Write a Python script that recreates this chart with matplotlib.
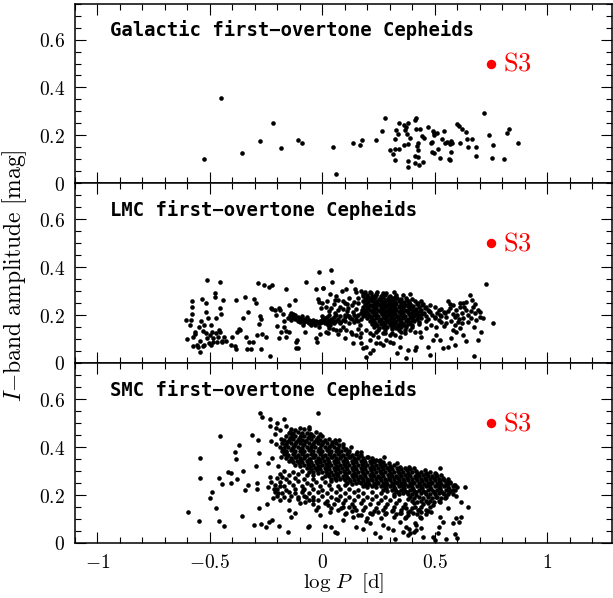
import matplotlib
matplotlib.use("Agg")
import matplotlib.pyplot as plt
from matplotlib.ticker import MultipleLocator, FuncFormatter

plt.rcParams['mathtext.fontset'] = 'cm'

# ---------------- data (log P [d], I-band amplitude [mag]) ----------------
galactic_pts = [
    (-0.528, 0.103), (-0.449, 0.355), (-0.358, 0.126), (-0.276, 0.175), (-0.221, 0.251), (-0.183, 0.147),
    (-0.110, 0.179), (-0.089, 0.167), (0.047, 0.150), (0.059, 0.040), (0.138, 0.169), (0.167, 0.161),
    (0.178, 0.179), (0.240, 0.179), (0.265, 0.219), (0.280, 0.271), (0.299, 0.139), (0.313, 0.122),
    (0.322, 0.186), (0.324, 0.144), (0.324, 0.096), (0.329, 0.222), (0.336, 0.207), (0.341, 0.250),
    (0.341, 0.143), (0.362, 0.242), (0.362, 0.160), (0.369, 0.222), (0.374, 0.233), (0.383, 0.251),
    (0.378, 0.204), (0.383, 0.164), (0.383, 0.093), (0.383, 0.068), (0.391, 0.189), (0.412, 0.264),
    (0.418, 0.272), (0.412, 0.114), (0.412, 0.086), (0.419, 0.226), (0.421, 0.157), (0.425, 0.167),
    (0.427, 0.139), (0.427, 0.111), (0.428, 0.075), (0.433, 0.225), (0.442, 0.196), (0.448, 0.090),
    (0.451, 0.187), (0.471, 0.235), (0.482, 0.167), (0.486, 0.173), (0.488, 0.130), (0.492, 0.219),
    (0.495, 0.125), (0.497, 0.208), (0.497, 0.200), (0.512, 0.211), (0.516, 0.144), (0.522, 0.105),
    (0.531, 0.183), (0.540, 0.218), (0.548, 0.167), (0.554, 0.172), (0.562, 0.100), (0.569, 0.097),
    (0.570, 0.162), (0.574, 0.176), (0.573, 0.132), (0.577, 0.167), (0.599, 0.246), (0.606, 0.239),
    (0.612, 0.169), (0.623, 0.225), (0.638, 0.215), (0.645, 0.183), (0.648, 0.150), (0.666, 0.183),
    (0.683, 0.150), (0.685, 0.115), (0.718, 0.292), (0.740, 0.200), (0.753, 0.104), (0.758, 0.161),
    (0.807, 0.101), (0.823, 0.212), (0.832, 0.228), (0.872, 0.169),
]

lmc_sparse = [
    (-0.605, 0.179), (-0.602, 0.099), (-0.590, 0.158), (-0.579, 0.260), (-0.579, 0.232), (-0.579, 0.203),
    (-0.582, 0.179), (-0.568, 0.128), (-0.573, 0.110), (-0.564, 0.119), (-0.573, 0.072), (-0.558, 0.075),
    (-0.553, 0.068), (-0.549, 0.151), (-0.546, 0.092), (-0.543, 0.047), (-0.539, 0.175), (-0.534, 0.269),
    (-0.531, 0.133), (-0.531, 0.072), (-0.528, 0.158), (-0.524, 0.075), (-0.519, 0.249), (-0.519, 0.211),
    (-0.516, 0.124), (-0.513, 0.346), (-0.513, 0.106), (-0.509, 0.186), (-0.504, 0.082), (-0.501, 0.117),
    (-0.494, 0.158), (-0.494, 0.075), (-0.490, 0.131), (-0.487, 0.106), (-0.484, 0.086), (-0.479, 0.276),
    (-0.476, 0.294), (-0.475, 0.124), (-0.472, 0.186), (-0.469, 0.089), (-0.464, 0.110), (-0.460, 0.138),
    (-0.457, 0.336), (-0.454, 0.228), (-0.454, 0.131), (-0.450, 0.203), (-0.448, 0.092), (-0.445, 0.086),
    (-0.442, 0.263), (-0.439, 0.110), (-0.430, 0.092), (-0.408, 0.075), (-0.401, 0.110), (-0.390, 0.072),
    (-0.386, 0.058), (-0.383, 0.263), (-0.380, 0.131), (-0.371, 0.142), (-0.368, 0.138), (-0.353, 0.186),
    (-0.346, 0.274), (-0.341, 0.110), (-0.335, 0.058), (-0.331, 0.211), (-0.328, 0.089), (-0.316, 0.058),
    (-0.309, 0.089), (-0.306, 0.267), (-0.297, 0.249), (-0.291, 0.117), (-0.286, 0.332), (-0.283, 0.161),
    (-0.279, 0.197), (-0.274, 0.183), (-0.272, 0.058), (-0.267, 0.119), (-0.261, 0.325), (-0.249, 0.110),
    (-0.237, 0.318), (-0.234, 0.031), (-0.223, 0.325), (-0.227, 0.231), (-0.223, 0.225), (-0.212, 0.221),
    (-0.205, 0.200), (-0.202, 0.156), (-0.193, 0.228), (-0.193, 0.106), (-0.187, 0.221), (-0.182, 0.131),
    (-0.175, 0.203), (-0.172, 0.175), (-0.171, 0.151), (-0.163, 0.308), (-0.163, 0.133), (-0.160, 0.110),
    (-0.153, 0.186), (-0.148, 0.244), (-0.148, 0.128), (-0.145, 0.200), (-0.138, 0.207), (-0.131, 0.193),
    (-0.123, 0.263), (-0.119, 0.064), (-0.116, 0.086), (-0.113, 0.096), (-0.108, 0.061), (-0.101, 0.172),
    (-0.093, 0.183), (-0.086, 0.158), (-0.079, 0.128), (-0.074, 0.339), (-0.071, 0.179), (-0.064, 0.172),
    (-0.056, 0.165), (-0.049, 0.158), (-0.042, 0.175), (-0.034, 0.158), (-0.030, 0.103), (-0.024, 0.089),
    (-0.027, 0.308), (-0.019, 0.269), (-0.015, 0.256), (-0.015, 0.151), (-0.012, 0.119), (-0.004, 0.228),
    (0.003, 0.314), (-0.016, 0.381), (0.010, 0.186), (0.018, 0.172), (0.025, 0.158), (0.018, 0.131),
    (0.025, 0.124),
    (0.040, 0.388), (0.043, 0.339), (0.003, 0.315), (0.126, 0.343), (0.107, 0.307), (0.088, 0.301),
    (0.062, 0.279), (0.070, 0.265), (0.033, 0.290), (0.055, 0.265), (0.144, 0.307), (0.151, 0.297),
    (0.174, 0.301), (0.181, 0.290), (0.211, 0.297), (0.240, 0.290), (0.270, 0.293), (0.392, 0.290),
    (0.559, 0.260), (0.656, 0.283), (0.668, 0.263), (0.641, 0.256), (0.611, 0.251), (0.730, 0.329),
    (0.760, 0.168), (0.715, 0.186), (0.700, 0.214), (0.685, 0.179), (0.674, 0.151), (0.708, 0.131),
    (0.693, 0.096), (0.674, 0.029), (0.641, 0.093), (0.626, 0.117), (0.611, 0.144), (0.596, 0.131),
    (0.582, 0.138), (0.574, 0.103), (0.589, 0.075), (0.559, 0.068), (0.537, 0.061), (0.522, 0.096),
    (0.507, 0.117), (0.493, 0.096), (0.478, 0.033), (0.470, 0.068), (0.441, 0.110), (0.418, 0.068),
    (0.411, 0.054), (0.381, 0.054), (0.371, 0.019), (0.344, 0.068), (0.332, 0.040), (0.315, 0.082),
    (0.300, 0.089), (0.285, 0.096), (0.270, 0.075), (0.255, 0.085), (0.240, 0.082), (0.226, 0.054),
    (0.211, 0.043), (0.193, 0.024), (0.196, 0.068), (0.181, 0.061), (0.174, 0.085), (0.136, 0.085),
    (0.166, 0.110), (0.151, 0.117), (0.129, 0.131), (0.107, 0.138), (0.092, 0.151), (0.077, 0.138),
    (0.062, 0.138), (0.047, 0.140), (0.033, 0.158), (0.018, 0.172), (0.003, 0.186), (-0.012, 0.172),
    (0.077, 0.172), (0.055, 0.207), (0.040, 0.228), (0.018, 0.235), (0.000, 0.249), (0.077, 0.235),
    (0.099, 0.249), (0.114, 0.228), (0.099, 0.200), (0.122, 0.186), (0.136, 0.214), (0.151, 0.179),
    (0.166, 0.158), (0.178, 0.221), (0.159, 0.249), (0.196, 0.138), (0.211, 0.124), (0.226, 0.117),
    (0.240, 0.131), (0.211, 0.096), (0.248, 0.107), (0.277, 0.124), (0.300, 0.117), (0.322, 0.117),
    (0.344, 0.110), (0.366, 0.124), (0.389, 0.138), (0.411, 0.131), (0.433, 0.131), (0.463, 0.144),
    (0.485, 0.158), (0.507, 0.151), (0.530, 0.172), (0.552, 0.165), (0.574, 0.176), (0.589, 0.193),
    (0.604, 0.172), (0.626, 0.186), (0.648, 0.200), (0.663, 0.186), (0.678, 0.207), (0.693, 0.221),
    (0.596, 0.221), (0.611, 0.235), (0.626, 0.249), (0.582, 0.242), (0.567, 0.228), (0.545, 0.207),
    (0.522, 0.200), (0.500, 0.193),
    (0.560, 0.215), (0.580, 0.205), (0.600, 0.200), (0.620, 0.210), (0.640, 0.220), (0.660, 0.215),
    (0.670, 0.235), (0.630, 0.235), (0.650, 0.170), (0.610, 0.185), (0.550, 0.190), (0.530, 0.225),
    (0.570, 0.245), (0.680, 0.245), (0.700, 0.190), (0.520, 0.180), (0.540, 0.155), (0.590, 0.160),
    (0.620, 0.165),
    (0.020, 0.260), (0.050, 0.245), (0.090, 0.260), (0.120, 0.270), (0.140, 0.255), (0.160, 0.270),
    (0.110, 0.245), (0.030, 0.145), (0.070, 0.120), (0.100, 0.105), (0.130, 0.120), (0.160, 0.140),
    (0.170, 0.125),
]

lmc_band = [
    (-0.140, 0.195), (-0.130, 0.190), (-0.120, 0.185), (-0.110, 0.190), (-0.100, 0.185), (-0.090, 0.180),
    (-0.080, 0.185), (-0.070, 0.175), (-0.060, 0.180), (-0.050, 0.175), (-0.040, 0.170), (-0.030, 0.175),
    (-0.020, 0.170), (-0.010, 0.175), (0.000, 0.170), (0.010, 0.175), (0.020, 0.180), (0.030, 0.175),
    (-0.140, 0.180), (-0.120, 0.200), (-0.100, 0.175), (-0.080, 0.170), (-0.060, 0.165), (-0.040, 0.180),
    (-0.020, 0.165), (0.000, 0.180), (0.020, 0.165), (-0.130, 0.205), (-0.110, 0.175), (-0.090, 0.195),
    (-0.070, 0.190), (-0.050, 0.165), (-0.030, 0.165), (-0.010, 0.165), (0.010, 0.165), (0.030, 0.165),
    (0.040, 0.170), (0.040, 0.180), (0.050, 0.175), (0.050, 0.165),
    (0.000, 0.195), (0.010, 0.180), (0.020, 0.190), (0.030, 0.200), (0.040, 0.185), (0.050, 0.190),
    (0.060, 0.200), (0.070, 0.185), (0.080, 0.195), (0.090, 0.180), (0.100, 0.190), (0.110, 0.200),
    (0.120, 0.195), (0.130, 0.185), (0.140, 0.200), (0.150, 0.190), (0.160, 0.200), (0.170, 0.185),
    (0.180, 0.195), (0.060, 0.175), (0.080, 0.165), (0.100, 0.175), (0.120, 0.165), (0.140, 0.170),
    (0.160, 0.175), (0.030, 0.215), (0.070, 0.220), (0.110, 0.215), (0.150, 0.225), (0.170, 0.210),
    (0.130, 0.240), (0.090, 0.225),
]

lmc_core = [
    (0.190, 0.296), (0.215, 0.293), (0.245, 0.297), (0.285, 0.294), (0.320, 0.298),
    (0.180, 0.281), (0.200, 0.284), (0.222, 0.280), (0.241, 0.283), (0.262, 0.281), (0.280, 0.285),
    (0.301, 0.280), (0.330, 0.283), (0.358, 0.282),
    (0.190, 0.271), (0.211, 0.268), (0.230, 0.272), (0.251, 0.269), (0.270, 0.271), (0.291, 0.268),
    (0.310, 0.272), (0.331, 0.270), (0.350, 0.268), (0.372, 0.271), (0.401, 0.269),
    (0.181, 0.259), (0.201, 0.256), (0.220, 0.260), (0.242, 0.257), (0.261, 0.259), (0.280, 0.256),
    (0.301, 0.260), (0.321, 0.257), (0.340, 0.259), (0.362, 0.256), (0.380, 0.258), (0.411, 0.257),
    (0.440, 0.259),
    (0.190, 0.247), (0.211, 0.244), (0.230, 0.248), (0.250, 0.245), (0.271, 0.247), (0.290, 0.244),
    (0.311, 0.248), (0.330, 0.245), (0.351, 0.247), (0.370, 0.244), (0.391, 0.247), (0.420, 0.245),
    (0.450, 0.247), (0.480, 0.244),
    (0.180, 0.235), (0.200, 0.232), (0.221, 0.236), (0.240, 0.233), (0.260, 0.235), (0.281, 0.232),
    (0.300, 0.236), (0.320, 0.233), (0.341, 0.235), (0.360, 0.232), (0.380, 0.236), (0.401, 0.233),
    (0.430, 0.235), (0.460, 0.232), (0.500, 0.235),
    (0.190, 0.223), (0.210, 0.220), (0.231, 0.224), (0.250, 0.221), (0.270, 0.223), (0.291, 0.220),
    (0.310, 0.224), (0.330, 0.221), (0.351, 0.223), (0.370, 0.220), (0.390, 0.224), (0.411, 0.221),
    (0.440, 0.223), (0.470, 0.220), (0.520, 0.222),
    (0.180, 0.211), (0.201, 0.208), (0.220, 0.212), (0.240, 0.209), (0.261, 0.211), (0.280, 0.208),
    (0.300, 0.212), (0.321, 0.209), (0.340, 0.211), (0.360, 0.208), (0.381, 0.212), (0.400, 0.209),
    (0.420, 0.211), (0.451, 0.208), (0.480, 0.212), (0.510, 0.209), (0.540, 0.211),
    (0.190, 0.199), (0.211, 0.196), (0.230, 0.200), (0.250, 0.197), (0.271, 0.199), (0.290, 0.196),
    (0.310, 0.200), (0.331, 0.197), (0.350, 0.199), (0.370, 0.196), (0.391, 0.200), (0.410, 0.197),
    (0.430, 0.199), (0.461, 0.196), (0.490, 0.200), (0.530, 0.197),
    (0.200, 0.187), (0.220, 0.184), (0.241, 0.188), (0.260, 0.185), (0.280, 0.187), (0.301, 0.184),
    (0.320, 0.188), (0.340, 0.185), (0.361, 0.187), (0.380, 0.184), (0.400, 0.188), (0.421, 0.185),
    (0.440, 0.187), (0.470, 0.184), (0.500, 0.188),
    (0.210, 0.175), (0.230, 0.172), (0.251, 0.176), (0.270, 0.173), (0.290, 0.175), (0.311, 0.172),
    (0.330, 0.176), (0.350, 0.173), (0.371, 0.175), (0.390, 0.172), (0.410, 0.176), (0.431, 0.173),
    (0.460, 0.175),
    (0.220, 0.163), (0.240, 0.160), (0.261, 0.164), (0.280, 0.161), (0.300, 0.163), (0.321, 0.160),
    (0.340, 0.164), (0.360, 0.161), (0.381, 0.163), (0.400, 0.160), (0.430, 0.163),
    (0.230, 0.151), (0.251, 0.148), (0.270, 0.152), (0.290, 0.149), (0.311, 0.151), (0.330, 0.148),
    (0.350, 0.152), (0.371, 0.149), (0.400, 0.151),
    (0.250, 0.139), (0.280, 0.136), (0.310, 0.140), (0.340, 0.137), (0.370, 0.139),
    (0.270, 0.127), (0.310, 0.124), (0.350, 0.128),
]

lmc_core_fill = [
    (0.205, 0.277), (0.235, 0.275), (0.265, 0.278), (0.295, 0.275), (0.325, 0.277),
    (0.195, 0.265), (0.225, 0.263), (0.255, 0.266), (0.285, 0.262), (0.315, 0.265), (0.345, 0.263),
    (0.375, 0.265),
    (0.205, 0.253), (0.235, 0.251), (0.265, 0.254), (0.295, 0.251), (0.325, 0.253), (0.355, 0.250),
    (0.385, 0.253), (0.425, 0.251),
    (0.195, 0.241), (0.225, 0.239), (0.255, 0.242), (0.285, 0.239), (0.315, 0.241), (0.345, 0.238),
    (0.375, 0.241), (0.405, 0.239), (0.445, 0.241),
    (0.205, 0.229), (0.235, 0.227), (0.265, 0.230), (0.295, 0.227), (0.325, 0.229), (0.355, 0.226),
    (0.385, 0.229), (0.415, 0.227), (0.455, 0.229),
    (0.195, 0.217), (0.225, 0.215), (0.255, 0.218), (0.285, 0.215), (0.315, 0.217), (0.345, 0.214),
    (0.375, 0.217), (0.405, 0.215), (0.435, 0.217), (0.475, 0.215),
    (0.205, 0.205), (0.235, 0.203), (0.265, 0.206), (0.295, 0.203), (0.325, 0.205), (0.355, 0.202),
    (0.385, 0.205), (0.415, 0.203), (0.445, 0.205),
    (0.215, 0.193), (0.245, 0.191), (0.275, 0.194), (0.305, 0.191), (0.335, 0.193), (0.365, 0.190),
    (0.395, 0.193), (0.425, 0.191),
    (0.225, 0.181), (0.255, 0.179), (0.285, 0.182), (0.315, 0.179), (0.345, 0.181), (0.375, 0.178),
    (0.405, 0.181),
    (0.235, 0.169), (0.265, 0.167), (0.295, 0.170), (0.325, 0.167), (0.355, 0.169), (0.385, 0.166),
    (0.245, 0.157), (0.275, 0.155), (0.305, 0.158), (0.335, 0.155), (0.365, 0.157),
]

smc_sparse = [
    (-0.598, 0.131), (-0.549, 0.093), (-0.546, 0.272), (-0.542, 0.353), (-0.501, 0.189), (-0.490, 0.214),
    (-0.472, 0.147), (-0.460, 0.272), (-0.460, 0.093), (-0.453, 0.446), (-0.447, 0.246), (-0.439, 0.072),
    (-0.420, 0.297), (-0.405, 0.293), (-0.405, 0.251), (-0.387, 0.381), (-0.386, 0.349), (-0.380, 0.267),
    (-0.371, 0.411), (-0.356, 0.114), (-0.353, 0.301), (-0.346, 0.221), (-0.331, 0.242), (-0.312, 0.450),
    (-0.306, 0.075), (-0.294, 0.321), (-0.291, 0.251), (-0.291, 0.225), (-0.286, 0.429), (-0.283, 0.374),
    (-0.282, 0.147), (-0.279, 0.543), (-0.274, 0.078), (-0.267, 0.526), (-0.249, 0.068), (-0.246, 0.163),
    (-0.243, 0.332), (-0.242, 0.235), (-0.237, 0.089), (-0.234, 0.274), (-0.231, 0.519), (-0.231, 0.488),
    (-0.227, 0.426), (-0.227, 0.256), (-0.224, 0.096), (-0.223, 0.353), (-0.219, 0.186), (-0.217, 0.224),
    (-0.212, 0.453), (-0.208, 0.478), (-0.205, 0.415), (-0.202, 0.501), (-0.197, 0.207), (-0.197, 0.321),
    (-0.193, 0.071), (-0.190, 0.238), (-0.187, 0.471), (-0.183, 0.432), (-0.183, 0.360), (-0.178, 0.274),
    (-0.175, 0.394), (-0.172, 0.519), (-0.163, 0.488), (-0.163, 0.381), (-0.153, 0.047), (-0.148, 0.138),
    (-0.145, 0.464), (-0.138, 0.110), (-0.123, 0.124), (-0.064, 0.068), (-0.019, 0.543),
    (-0.059, 0.485), (-0.012, 0.457), (0.055, 0.429), (0.074, 0.429), (0.092, 0.415), (0.126, 0.399),
    (0.174, 0.381), (0.240, 0.346), (0.273, 0.360), (0.332, 0.335), (-0.059, 0.071), (0.010, 0.071),
    (0.040, 0.068), (0.055, 0.047), (0.065, 0.040), (0.092, 0.096), (0.135, 0.110), (0.151, 0.068),
    (0.180, 0.057), (0.196, 0.093), (0.211, 0.082), (0.233, 0.043), (0.255, 0.026), (0.270, 0.075),
    (0.292, 0.061), (0.314, 0.054), (0.322, 0.015), (0.344, 0.089), (0.374, 0.065), (0.389, 0.040),
    (0.411, 0.082), (0.418, 0.054), (-0.042, 0.179), (-0.027, 0.138), (-0.012, 0.117), (0.025, 0.158),
    (0.033, 0.131), (0.070, 0.179), (0.085, 0.144), (0.107, 0.124), (0.121, 0.151), (0.151, 0.138),
    (0.174, 0.117), (0.211, 0.124), (0.248, 0.131), (0.285, 0.124), (0.314, 0.138), (0.344, 0.124),
    (0.374, 0.144), (0.403, 0.124), (0.426, 0.138), (-0.086, 0.221), (-0.071, 0.193), (-0.079, 0.172),
    (0.525, 0.311), (0.636, 0.235), (0.618, 0.172), (0.648, 0.149), (0.596, 0.196), (0.581, 0.221),
    (0.589, 0.242), (0.567, 0.256), (0.559, 0.144), (0.596, 0.103), (0.608, 0.089), (0.618, 0.107),
    (0.581, 0.082), (0.537, 0.089), (0.522, 0.107), (0.519, 0.068), (0.514, 0.043), (0.492, 0.026),
    (0.500, 0.013), (0.551, 0.015), (0.589, 0.038), (0.599, 0.019), (0.448, 0.026), (0.441, 0.061),
    (0.418, 0.075), (0.406, 0.047), (0.381, 0.033), (0.385, 0.057), (0.359, 0.047), (0.433, 0.110),
    (0.441, 0.131), (0.463, 0.138), (0.485, 0.131), (0.492, 0.158), (0.470, 0.165), (0.522, 0.172),
    (0.544, 0.186), (0.507, 0.193), (0.411, 0.151), (0.381, 0.131), (0.374, 0.110), (0.351, 0.124),
]

smc_band = [
    (-0.140, 0.477), (-0.121, 0.473), (-0.100, 0.478), (-0.082, 0.474), (-0.060, 0.476),
    (-0.150, 0.461), (-0.131, 0.458), (-0.110, 0.462), (-0.091, 0.459), (-0.070, 0.461), (-0.049, 0.457),
    (-0.030, 0.462),
    (-0.160, 0.446), (-0.141, 0.443), (-0.120, 0.447), (-0.100, 0.444), (-0.081, 0.446), (-0.060, 0.442),
    (-0.040, 0.447), (-0.021, 0.444), (0.000, 0.446),
    (-0.170, 0.431), (-0.150, 0.428), (-0.131, 0.432), (-0.110, 0.429), (-0.090, 0.431), (-0.071, 0.427),
    (-0.050, 0.432), (-0.030, 0.429), (-0.011, 0.431), (0.010, 0.428), (0.030, 0.432),
    (-0.180, 0.416), (-0.160, 0.413), (-0.141, 0.417), (-0.120, 0.414), (-0.100, 0.416), (-0.081, 0.412),
    (-0.060, 0.417), (-0.040, 0.414), (-0.021, 0.416), (0.000, 0.413), (0.020, 0.417), (0.041, 0.414),
    (0.060, 0.416),
    (-0.190, 0.401), (-0.170, 0.398), (-0.151, 0.402), (-0.130, 0.399), (-0.110, 0.401), (-0.091, 0.397),
    (-0.070, 0.402), (-0.050, 0.399), (-0.031, 0.401), (-0.010, 0.398), (0.010, 0.402), (0.031, 0.399),
    (0.050, 0.401), (0.070, 0.398), (0.090, 0.402),
    (-0.180, 0.386), (-0.161, 0.383), (-0.140, 0.387), (-0.120, 0.384), (-0.101, 0.386), (-0.080, 0.382),
    (-0.060, 0.387), (-0.041, 0.384), (-0.020, 0.386), (0.000, 0.383), (0.021, 0.387), (0.040, 0.384),
    (0.060, 0.386), (0.081, 0.383), (0.100, 0.387), (0.120, 0.384),
    (-0.170, 0.371), (-0.151, 0.368), (-0.130, 0.372), (-0.110, 0.369), (-0.091, 0.371), (-0.070, 0.367),
    (-0.050, 0.372), (-0.031, 0.369), (-0.010, 0.371), (0.010, 0.368), (0.031, 0.372), (0.050, 0.369),
    (0.070, 0.371), (0.091, 0.368), (0.110, 0.372), (0.130, 0.369), (0.151, 0.371), (0.170, 0.368),
    (-0.160, 0.356), (-0.140, 0.353), (-0.121, 0.357), (-0.100, 0.354), (-0.080, 0.356), (-0.061, 0.352),
    (-0.040, 0.357), (-0.020, 0.354), (-0.001, 0.356), (0.020, 0.353), (0.040, 0.357), (0.061, 0.354),
    (0.080, 0.356), (0.100, 0.353), (0.121, 0.357), (0.140, 0.354), (0.160, 0.356), (0.181, 0.353),
    (0.200, 0.357), (0.220, 0.354),
    (-0.150, 0.341), (-0.130, 0.338), (-0.111, 0.342), (-0.090, 0.339), (-0.070, 0.341), (-0.051, 0.337),
    (-0.030, 0.342), (-0.010, 0.339), (0.009, 0.341), (0.030, 0.338), (0.050, 0.342), (0.071, 0.339),
    (0.090, 0.341), (0.110, 0.338), (0.131, 0.342), (0.150, 0.339), (0.170, 0.341), (0.191, 0.338),
    (0.210, 0.342), (0.230, 0.339), (0.251, 0.341), (0.270, 0.338),
    (-0.120, 0.326), (-0.100, 0.323), (-0.081, 0.327), (-0.060, 0.324), (-0.040, 0.326), (-0.021, 0.322),
    (0.000, 0.327), (0.020, 0.324), (0.039, 0.326), (0.060, 0.323), (0.080, 0.327), (0.101, 0.324),
    (0.120, 0.326), (0.140, 0.323), (0.161, 0.327), (0.180, 0.324), (0.200, 0.326), (0.221, 0.323),
    (0.240, 0.327), (0.260, 0.324), (0.281, 0.326), (0.300, 0.323), (0.320, 0.327),
    (-0.070, 0.311), (-0.050, 0.308), (-0.031, 0.312), (-0.010, 0.309), (0.010, 0.311), (0.029, 0.307),
    (0.050, 0.312), (0.070, 0.309), (0.089, 0.311), (0.110, 0.308), (0.130, 0.312), (0.151, 0.309),
    (0.170, 0.311), (0.190, 0.308), (0.211, 0.312), (0.230, 0.309), (0.250, 0.311), (0.271, 0.308),
    (0.290, 0.312), (0.310, 0.309), (0.331, 0.311), (0.350, 0.308), (0.370, 0.312), (0.391, 0.309),
    (0.410, 0.311),
    (-0.040, 0.296), (-0.020, 0.293), (-0.001, 0.297), (0.020, 0.294), (0.040, 0.296), (0.059, 0.292),
    (0.080, 0.297), (0.100, 0.294), (0.119, 0.296), (0.140, 0.293), (0.160, 0.297), (0.181, 0.294),
    (0.200, 0.296), (0.220, 0.293), (0.241, 0.297), (0.260, 0.294), (0.280, 0.296), (0.301, 0.293),
    (0.320, 0.297), (0.340, 0.294), (0.361, 0.296), (0.380, 0.293), (0.400, 0.297), (0.421, 0.294),
    (0.440, 0.296), (0.460, 0.293), (0.481, 0.297), (0.500, 0.294),
    (0.010, 0.281), (0.030, 0.278), (0.049, 0.282), (0.070, 0.279), (0.090, 0.281), (0.109, 0.277),
    (0.130, 0.282), (0.150, 0.279), (0.169, 0.281), (0.190, 0.278), (0.210, 0.282), (0.231, 0.279),
    (0.250, 0.281), (0.270, 0.278), (0.291, 0.282), (0.310, 0.279), (0.330, 0.281), (0.351, 0.278),
    (0.370, 0.282), (0.390, 0.279), (0.411, 0.281), (0.430, 0.278), (0.450, 0.282), (0.471, 0.279),
    (0.490, 0.281), (0.510, 0.278), (0.530, 0.282),
    (0.040, 0.266), (0.060, 0.263), (0.079, 0.267), (0.100, 0.264), (0.120, 0.266), (0.139, 0.262),
    (0.160, 0.267), (0.180, 0.264), (0.199, 0.266), (0.220, 0.263), (0.240, 0.267), (0.261, 0.264),
    (0.280, 0.266), (0.300, 0.263), (0.321, 0.267), (0.340, 0.264), (0.360, 0.266), (0.381, 0.263),
    (0.400, 0.267), (0.420, 0.264), (0.441, 0.266), (0.460, 0.263), (0.480, 0.267), (0.501, 0.264),
    (0.520, 0.266), (0.540, 0.263), (0.560, 0.267),
    (0.110, 0.251), (0.130, 0.248), (0.149, 0.252), (0.170, 0.249), (0.190, 0.251), (0.209, 0.247),
    (0.230, 0.252), (0.250, 0.249), (0.269, 0.251), (0.290, 0.248), (0.310, 0.252), (0.331, 0.249),
    (0.350, 0.251), (0.370, 0.248), (0.391, 0.252), (0.410, 0.249), (0.430, 0.251), (0.451, 0.248),
    (0.470, 0.252), (0.490, 0.249), (0.511, 0.251), (0.530, 0.248), (0.550, 0.252), (0.570, 0.249),
    (0.180, 0.236), (0.200, 0.233), (0.219, 0.237), (0.240, 0.234), (0.260, 0.236), (0.279, 0.232),
    (0.300, 0.237), (0.320, 0.234), (0.339, 0.236), (0.360, 0.233), (0.380, 0.237), (0.401, 0.234),
    (0.420, 0.236), (0.440, 0.233), (0.461, 0.237), (0.480, 0.234), (0.500, 0.236), (0.521, 0.233),
    (0.540, 0.237), (0.560, 0.234), (0.581, 0.236), (0.600, 0.233),
    (0.270, 0.221), (0.290, 0.218), (0.309, 0.222), (0.330, 0.219), (0.350, 0.221), (0.369, 0.217),
    (0.390, 0.222), (0.410, 0.219), (0.429, 0.221), (0.450, 0.218), (0.470, 0.222), (0.491, 0.219),
    (0.510, 0.221), (0.530, 0.218), (0.551, 0.222), (0.570, 0.219), (0.590, 0.221),
    (0.320, 0.206), (0.340, 0.203), (0.359, 0.207), (0.380, 0.204), (0.400, 0.206), (0.419, 0.202),
    (0.440, 0.207), (0.460, 0.204), (0.479, 0.206), (0.500, 0.203), (0.520, 0.207), (0.541, 0.204),
    (0.560, 0.206), (0.580, 0.203),
    (0.390, 0.191), (0.410, 0.188), (0.429, 0.192), (0.450, 0.189), (0.470, 0.191), (0.489, 0.187),
    (0.510, 0.192), (0.530, 0.189), (0.549, 0.191),
    (0.400, 0.176), (0.420, 0.173), (0.439, 0.177), (0.460, 0.174), (0.480, 0.176), (0.499, 0.172),
    (0.520, 0.177),
]

smc_band_fill = [
    (-0.135, 0.453), (-0.095, 0.451), (-0.055, 0.454),
    (-0.145, 0.438), (-0.105, 0.436), (-0.065, 0.439), (-0.025, 0.436),
    (-0.155, 0.423), (-0.115, 0.421), (-0.075, 0.424), (-0.035, 0.421), (0.005, 0.423), (0.045, 0.421),
    (-0.165, 0.408), (-0.125, 0.406), (-0.085, 0.409), (-0.045, 0.406), (-0.005, 0.408), (0.035, 0.405),
    (0.075, 0.408),
    (-0.175, 0.393), (-0.135, 0.391), (-0.095, 0.394), (-0.055, 0.391), (-0.015, 0.393), (0.025, 0.390),
    (0.065, 0.393), (0.105, 0.391),
    (-0.165, 0.378), (-0.125, 0.376), (-0.085, 0.379), (-0.045, 0.376), (-0.005, 0.378), (0.035, 0.375),
    (0.075, 0.378), (0.115, 0.376), (0.155, 0.378),
    (-0.155, 0.363), (-0.115, 0.361), (-0.075, 0.364), (-0.035, 0.361), (0.005, 0.363), (0.045, 0.360),
    (0.085, 0.363), (0.125, 0.361), (0.165, 0.363), (0.205, 0.360),
    (-0.135, 0.348), (-0.095, 0.346), (-0.055, 0.349), (-0.015, 0.346), (0.025, 0.348), (0.065, 0.345),
    (0.105, 0.348), (0.145, 0.346), (0.185, 0.348), (0.225, 0.345), (0.255, 0.348),
    (-0.105, 0.333), (-0.065, 0.331), (-0.025, 0.334), (0.015, 0.331), (0.055, 0.333), (0.095, 0.330),
    (0.135, 0.333), (0.175, 0.331), (0.215, 0.333), (0.255, 0.330), (0.295, 0.333),
    (-0.055, 0.318), (-0.015, 0.316), (0.025, 0.319), (0.065, 0.316), (0.105, 0.318), (0.145, 0.315),
    (0.185, 0.318), (0.225, 0.316), (0.265, 0.318), (0.305, 0.315), (0.345, 0.318), (0.385, 0.316),
    (-0.025, 0.303), (0.015, 0.301), (0.055, 0.304), (0.095, 0.301), (0.135, 0.303), (0.175, 0.300),
    (0.215, 0.303), (0.255, 0.301), (0.295, 0.303), (0.335, 0.300), (0.375, 0.303), (0.415, 0.301),
    (0.455, 0.303),
    (0.025, 0.288), (0.065, 0.286), (0.105, 0.289), (0.145, 0.286), (0.185, 0.288), (0.225, 0.285),
    (0.265, 0.288), (0.305, 0.286), (0.345, 0.288), (0.385, 0.285), (0.425, 0.288), (0.465, 0.286),
    (0.505, 0.288),
    (0.055, 0.273), (0.095, 0.271), (0.135, 0.274), (0.175, 0.271), (0.215, 0.273), (0.255, 0.270),
    (0.295, 0.273), (0.335, 0.271), (0.375, 0.273), (0.415, 0.270), (0.455, 0.273), (0.495, 0.271),
    (0.535, 0.273),
    (0.125, 0.258), (0.165, 0.256), (0.205, 0.259), (0.245, 0.256), (0.285, 0.258), (0.325, 0.255),
    (0.365, 0.258), (0.405, 0.256), (0.445, 0.258), (0.485, 0.255), (0.525, 0.258), (0.555, 0.256),
    (0.195, 0.243), (0.235, 0.241), (0.275, 0.244), (0.315, 0.241), (0.355, 0.243), (0.395, 0.240),
    (0.435, 0.243), (0.475, 0.241), (0.515, 0.243), (0.555, 0.240), (0.585, 0.243),
    (0.285, 0.228), (0.325, 0.226), (0.365, 0.229), (0.405, 0.226), (0.445, 0.228), (0.485, 0.225),
    (0.525, 0.228), (0.565, 0.226),
    (0.335, 0.213), (0.375, 0.211), (0.415, 0.214), (0.455, 0.211), (0.495, 0.213), (0.535, 0.210),
    (0.565, 0.213),
]

smc_lower = [
    (-0.170, 0.302), (-0.130, 0.298), (-0.090, 0.301), (-0.060, 0.297),
    (-0.190, 0.286), (-0.150, 0.283), (-0.110, 0.287), (-0.070, 0.282), (-0.040, 0.285),
    (-0.200, 0.271), (-0.160, 0.268), (-0.120, 0.272), (-0.080, 0.269), (-0.040, 0.266), (0.000, 0.271),
    (-0.190, 0.256), (-0.150, 0.253), (-0.110, 0.257), (-0.070, 0.252), (-0.030, 0.256), (0.010, 0.253),
    (0.040, 0.257),
    (-0.210, 0.241), (-0.170, 0.238), (-0.130, 0.242), (-0.090, 0.239), (-0.050, 0.241), (-0.010, 0.237),
    (0.030, 0.242), (0.070, 0.239), (0.100, 0.241),
    (-0.200, 0.226), (-0.160, 0.223), (-0.120, 0.227), (-0.080, 0.224), (-0.040, 0.226), (0.000, 0.222),
    (0.040, 0.227), (0.080, 0.224), (0.120, 0.226), (0.160, 0.223),
    (-0.210, 0.211), (-0.180, 0.208), (-0.150, 0.212), (-0.120, 0.209), (-0.090, 0.211), (-0.060, 0.207),
    (-0.020, 0.212), (0.020, 0.209), (0.060, 0.211), (0.100, 0.208), (0.140, 0.212), (0.180, 0.209),
    (0.220, 0.211), (0.260, 0.208),
    (-0.200, 0.196), (-0.170, 0.193), (-0.140, 0.197), (-0.110, 0.194), (-0.080, 0.196), (-0.040, 0.192),
    (0.000, 0.197), (0.040, 0.194), (0.080, 0.196), (0.120, 0.193), (0.160, 0.197), (0.200, 0.194),
    (0.240, 0.196), (0.280, 0.193), (0.320, 0.197),
    (-0.190, 0.181), (-0.150, 0.178), (-0.110, 0.182), (-0.060, 0.179), (-0.020, 0.181), (0.020, 0.177),
    (0.060, 0.182), (0.100, 0.179), (0.140, 0.181), (0.180, 0.178), (0.220, 0.182), (0.260, 0.179),
    (0.300, 0.181), (0.340, 0.178), (0.380, 0.182),
    (-0.100, 0.166), (-0.040, 0.163), (0.010, 0.167), (0.050, 0.164), (0.090, 0.166), (0.130, 0.162),
    (0.170, 0.167), (0.210, 0.164), (0.250, 0.166), (0.290, 0.163), (0.330, 0.167), (0.370, 0.164),
    (0.410, 0.166), (0.450, 0.163),
    (-0.020, 0.151), (0.040, 0.148), (0.090, 0.152), (0.140, 0.149), (0.190, 0.151), (0.240, 0.147),
    (0.280, 0.152), (0.320, 0.149), (0.360, 0.151), (0.400, 0.148), (0.440, 0.152), (0.480, 0.149),
    (0.070, 0.136), (0.130, 0.133), (0.180, 0.137), (0.230, 0.134), (0.270, 0.136), (0.310, 0.132),
    (0.350, 0.137), (0.390, 0.134), (0.430, 0.136), (0.470, 0.133),
    (0.100, 0.121), (0.160, 0.118), (0.220, 0.122), (0.280, 0.119), (0.330, 0.121), (0.380, 0.117),
    (0.420, 0.122), (0.460, 0.119),
    (0.200, 0.106), (0.260, 0.103), (0.320, 0.107), (0.370, 0.104), (0.440, 0.106),
]

s3_logp = 0.75
s3_amp = 0.50

panel_titles = ["Galactic first\u2212overtone Cepheids",
                "LMC first\u2212overtone Cepheids",
                "SMC first\u2212overtone Cepheids"]
x_limits = (-1.1, 1.29)
y_limits = (0.0, 0.75)


def unzip(points):
    return [p[0] for p in points], [p[1] for p in points]


panel_points = [galactic_pts,
                lmc_sparse + lmc_band + lmc_core + lmc_core_fill,
                smc_sparse + smc_band + smc_band_fill + smc_lower]

# ---------------- figure ----------------
W, H = 613, 598
fig = plt.figure(figsize=(W / 100, H / 100), dpi=100)

left = 75 / W
width = 537.3 / W
panel_h = 179.7 / H
bottoms = [1 - 183.3 / H, 1 - 363 / H, 1 - 543 / H]

fmt = FuncFormatter(lambda v, pos: r'$%s$' % ('%g' % round(v, 3)))

axes = []
for i in range(3):
    ax = fig.add_axes([left, bottoms[i], width, panel_h])
    axes.append(ax)
    xs, ys = unzip(panel_points[i])
    ax.plot(xs, ys, 'o', color='black', ms=3.3, mew=0, ls='none')
    ax.plot([s3_logp], [s3_amp], 'o', color='#ff0000', ms=6.8, mew=0)
    ax.text(s3_logp + 0.055, s3_amp, r'$\mathrm{S3}$', color='#ff0000', fontsize=19,
            va='center', ha='left')
    ax.text(0.066, 0.82, panel_titles[i], transform=ax.transAxes,
            family='DejaVu Sans Mono', fontweight='bold', fontsize=13.6, va='baseline')

    ax.set_xlim(*x_limits)
    ax.set_ylim(*y_limits)
    ax.xaxis.set_major_locator(MultipleLocator(0.5))
    ax.xaxis.set_minor_locator(MultipleLocator(0.1))
    ax.yaxis.set_major_locator(MultipleLocator(0.2))
    ax.yaxis.set_minor_locator(MultipleLocator(0.05))
    ax.tick_params(which='both', direction='in', top=True, right=True, width=0.8)
    ax.tick_params(which='major', length=8)
    ax.tick_params(which='minor', length=4)
    ax.tick_params(axis='y', which='major', pad=7, labelsize=14)
    ax.tick_params(axis='x', which='major', pad=7, labelsize=14)
    ax.yaxis.set_major_formatter(fmt)
    if i < 2:
        ax.tick_params(axis='x', labelbottom=False)
    else:
        ax.xaxis.set_major_formatter(fmt)
    for sp in ax.spines.values():
        sp.set_linewidth(1.1)

fig.text(15 / W, 1 - 276 / H, r'$I{-}\mathrm{band\ amplitude\ [mag]}$', rotation=90,
         ha='center', va='center', fontsize=17)
fig.text(343.5 / W, 1 - 583.5 / H, r'$\mathrm{log}\ P\ \ \mathrm{[d]}$',
         ha='center', va='center', fontsize=15)

fig.savefig('out.png', dpi=100)
